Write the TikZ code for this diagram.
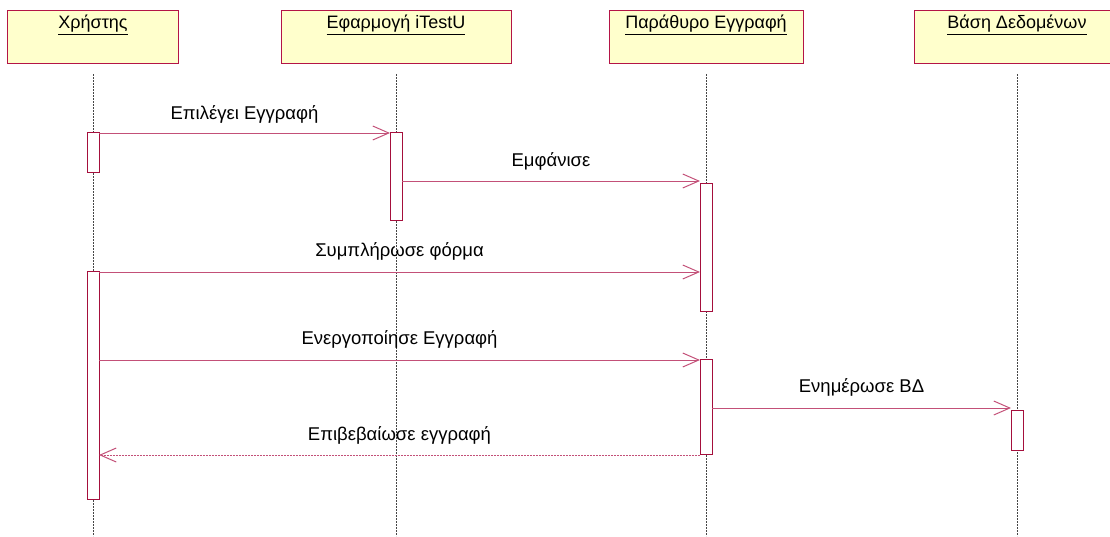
\documentclass[tikz,border=0pt]{standalone}
\usepackage{fontspec}
\setmainfont{Liberation Sans}
\usetikzlibrary{arrows.meta}
\definecolor{boxfill}{RGB}{255,255,204}
\definecolor{boxline}{RGB}{180,20,70}
\definecolor{actline}{RGB}{165,15,60}
\definecolor{msgline}{RGB}{195,80,120}
\definecolor{lifeline}{RGB}{70,70,70}
\tikzset{
  objbox/.style={draw=boxline, line width=1pt, fill=boxfill, minimum width=171pt, minimum height=53pt, anchor=north west, inner sep=0pt},
  objtext/.style={font=\fontsize{18}{20}\selectfont, inner sep=0pt},
  lifel/.style={draw=lifeline, line width=0.7pt, dash pattern=on 2pt off 1pt},
  actbox/.style={draw=actline, line width=1pt, fill=white, minimum width=12pt, inner sep=0pt, anchor=north},
  msg/.style={draw=msgline, line width=1pt, -{Straight Barb[length=16pt,width=14pt,line width=1pt]}},
  ret/.style={msg, dash pattern=on 2pt off 1pt},
  msgtext/.style={font=\fontsize{18.5}{21}\selectfont, inner sep=0pt}
}
\begin{document}
\begin{tikzpicture}[x=1pt,y=-1pt]
\useasboundingbox (0,0) rectangle (1110,536);
\clip (0,0) rectangle (1110,536);
% object boxes
\node[objbox] (o1) at (7,10) {};
\node[objbox, minimum width=230pt] (o2) at (281,10) {};
\node[objbox, minimum width=194pt] (o3) at (609,10) {};
\node[objbox, minimum width=240pt] (o4) at (914,10) {};
\node[objtext] (t1) at (93,25) {\underline{Χρήστης}};
\node[objtext] (t2) at (396,25) {\underline{Εφαρμογή iTestU}};
\node[objtext] (t3) at (706,25) {\underline{Παράθυρο Εγγραφή}};
\node[objtext] (t4) at (1017,25) {\underline{Βάση Δεδομένων}};
% lifelines
\coordinate (l1s) at (93,74); \coordinate (l1e) at (93,536);
\coordinate (l2s) at (396,74); \coordinate (l2e) at (396,536);
\coordinate (l3s) at (706,74); \coordinate (l3e) at (706,536);
\coordinate (l4s) at (1017,74); \coordinate (l4e) at (1017,536);
\draw[lifel] (l1s) -- (l1e);
\draw[lifel] (l2s) -- (l2e);
\draw[lifel] (l3s) -- (l3e);
\draw[lifel] (l4s) -- (l4e);
% activations
\node[actbox, minimum height=40pt] (a1) at (93,132) {};
\node[actbox, minimum height=88pt] (a2) at (396,132) {};
\node[actbox, minimum height=128pt] (a3) at (706,183) {};
\node[actbox, minimum height=228pt] (a4) at (93,271) {};
\node[actbox, minimum height=95pt] (a5) at (706,359) {};
\node[actbox, minimum height=40pt] (a6) at (1017,410) {};
% message endpoints
\coordinate (m1s) at (99,133);  \coordinate (m1e) at (390,133);
\coordinate (m2s) at (402,181); \coordinate (m2e) at (700,181);
\coordinate (m3s) at (99,272);  \coordinate (m3e) at (700,272);
\coordinate (m4s) at (99,360);  \coordinate (m4e) at (700,360);
\coordinate (m5s) at (712,408); \coordinate (m5e) at (1011,408);
\coordinate (m6s) at (700,455); \coordinate (m6e) at (99,455);
\draw[msg] (m1s) -- (m1e);
\draw[msg] (m2s) -- (m2e);
\draw[msg] (m3s) -- (m3e);
\draw[msg] (m4s) -- (m4e);
\draw[msg] (m5s) -- (m5e);
\draw[ret] (m6s) -- (m6e);
% labels
\node[msgtext] (L1) at (244.5,114) {Επιλέγει Εγγραφή};
\node[msgtext] (L2) at (551,161) {Εμφάνισε};
\node[msgtext] (L3) at (399.5,251) {Συμπλήρωσε φόρμα};
\node[msgtext] (L4) at (399.5,339) {Ενεργοποίησε Εγγραφή};
\node[msgtext] (L5) at (861.5,387) {Ενημέρωσε ΒΔ};
\node[msgtext] (L6) at (399.5,435) {Επιβεβαίωσε εγγραφή};
\end{tikzpicture}
\end{document}
